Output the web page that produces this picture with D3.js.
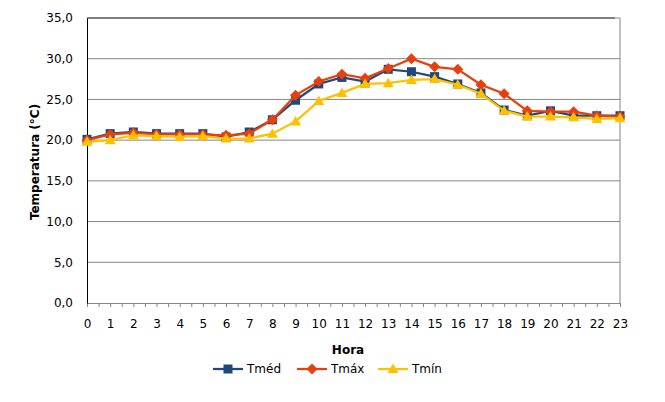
<!DOCTYPE html>
<html><head><meta charset="utf-8">
<script src="https://cdn.jsdelivr.net/npm/d3@7/dist/d3.min.js"></script>
<style>body{margin:0;background:#fff}svg{display:block}text{font-family:"DejaVu Sans",Verdana,sans-serif}</style>
</head><body>
<script>
const hours = d3.range(0,24);
const tmed = [20.1,20.8,21.0,20.8,20.8,20.8,20.4,21.0,22.5,24.9,26.9,27.7,27.2,28.7,28.4,27.8,26.9,25.8,23.7,23.0,23.6,23.0,23.0,23.0];
const tmax = [20.0,20.7,20.9,20.7,20.7,20.7,20.6,20.8,22.5,25.5,27.2,28.1,27.6,28.8,30.0,29.0,28.7,26.8,25.7,23.6,23.5,23.5,23.0,22.9];
const tmin = [19.8,20.0,20.6,20.5,20.4,20.5,20.2,20.2,20.8,22.3,24.8,25.8,26.9,27.0,27.4,27.5,26.8,25.7,23.6,22.9,22.9,22.8,22.6,22.7];
const yTicks = [0,5,10,15,20,25,30,35];
const series = [
  {name:"Tméd", values:tmed, color:"#1F497D", shape:"square"},
  {name:"Tmáx", values:tmax, color:"#E8400C", shape:"diamond"},
  {name:"Tmín", values:tmin, color:"#FFC000", shape:"triangle"}
];
const W=665,H=402, L=87, R=620, T=18, B=303;
const svg=d3.select("body").append("svg").attr("width",W).attr("height",H);
const x=d3.scaleLinear().domain([0,23]).range([L,R]);
const y=d3.scaleLinear().domain([0,35]).range([B,T]);
const fs="12px";
svg.append("g").selectAll("line").data(yTicks.filter(v=>v>0&&v<35)).join("line")
 .attr("x1",L).attr("x2",R).attr("y1",d=>y(d)).attr("y2",d=>y(d)).attr("stroke","#868686").attr("stroke-width",1);
svg.append("line").attr("x1",L).attr("x2",R-5).attr("y1",y(35)).attr("y2",y(35)).attr("stroke","#000");
svg.append("line").attr("x1",R-5).attr("x2",R).attr("y1",y(35)).attr("y2",y(35)).attr("stroke","#868686");
svg.append("line").attr("x1",R).attr("x2",R).attr("y1",T).attr("y2",B).attr("stroke","#868686");
const xa=svg.append("g").attr("transform",`translate(0,${B})`).call(d3.axisBottom(x).tickValues(d3.range(0,23.01,0.5)).tickSize(4).tickFormat(d=>Number.isInteger(d)?d:""));
xa.select(".domain").attr("stroke","#868686");
xa.selectAll(".tick line").attr("stroke","#868686");
xa.selectAll(".tick text").attr("font-size",fs).attr("fill","#000").attr("font-family","DejaVu Sans").attr("dy","1.5em");
const ya=svg.append("g").attr("transform",`translate(${L},0)`).call(d3.axisLeft(y).tickValues(yTicks).tickSize(0).tickPadding(14).tickFormat(d=>d3.format(".1f")(d).replace(".",",")));
ya.select(".domain").attr("stroke","#000");
ya.selectAll(".tick text").attr("font-size",fs).attr("fill","#000").attr("font-family","DejaVu Sans");
svg.append("text").attr("x",348).attr("y",354).attr("text-anchor","middle").attr("font-size",fs).attr("font-weight","bold").text("Hora");
svg.append("text").attr("transform","translate(39,162) rotate(-90)").attr("text-anchor","middle").attr("font-size",fs).attr("font-weight","bold").text("Temperatura (°C)");
function marker(g,shape,color,cx,cy){
  if(shape==="square") g.append("rect").attr("x",cx-4.5).attr("y",cy-4.5).attr("width",9).attr("height",9).attr("fill",color);
  else if(shape==="diamond") g.append("path").attr("d",`M${cx},${cy-5.5}L${cx+5.5},${cy}L${cx},${cy+5.5}L${cx-5.5},${cy}Z`).attr("fill",color);
  else g.append("path").attr("d",`M${cx},${cy-5.5}L${cx+5.5},${cy+4}L${cx-5.5},${cy+4}Z`).attr("fill",color);
}
const line=d3.line().x((d,i)=>x(hours[i])).y(d=>y(d));
series.forEach(s=>{
  const g=svg.append("g");
  g.append("path").attr("d",line(s.values)).attr("fill","none").attr("stroke",s.color).attr("stroke-width",2.25);
  s.values.forEach((v,i)=>marker(g,s.shape,s.color,x(hours[i]),y(v)));
});
const lg=[{s:series[0],x0:213},{s:series[1],x0:297},{s:series[2],x0:378}];
lg.forEach(o=>{
  const g=svg.append("g");
  g.append("line").attr("x1",o.x0).attr("x2",o.x0+30).attr("y1",369).attr("y2",369).attr("stroke",o.s.color).attr("stroke-width",2.25);
  marker(g,o.s.shape,o.s.color,o.x0+15,369);
  g.append("text").attr("x",o.x0+34).attr("y",373).attr("font-size",fs).text(o.s.name);
});
</script>
</body></html>
